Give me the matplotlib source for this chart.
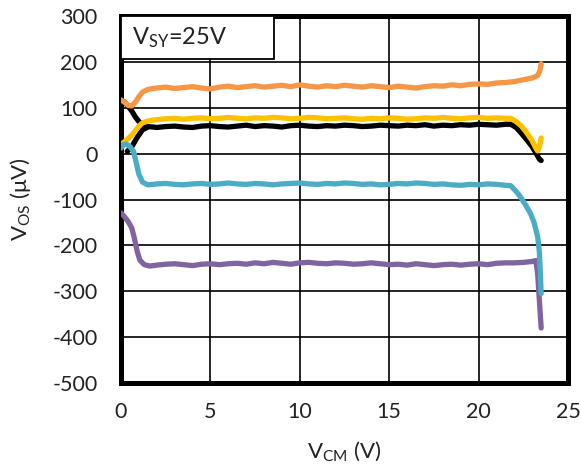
import matplotlib
matplotlib.use("Agg")
import matplotlib.pyplot as plt
from matplotlib.patches import Rectangle

plt.rcParams["font.family"] = ["Lato", "DejaVu Sans"]
plt.rcParams["mathtext.fontset"] = "custom"
plt.rcParams["mathtext.rm"] = "Lato"
plt.rcParams["mathtext.it"] = "Lato:italic"
plt.rcParams["axes.unicode_minus"] = False

# common flat-region VCM points (V)
vcm_mid = [2.0, 2.5, 3.0, 3.5, 4.0, 4.5, 5.0, 5.5, 6.0, 6.5,
           7.0, 7.5, 8.0, 8.5, 9.0, 9.5, 10.0, 10.5, 11.0, 11.5,
           12.0, 12.5, 13.0, 13.5, 14.0, 14.5, 15.0, 15.5, 16.0, 16.5,
           17.0, 17.5, 18.0, 18.5, 19.0, 19.5, 20.0, 20.5, 21.0, 21.5]

# orange
orange_x = [0, 0.2, 0.4, 0.6, 0.8, 1.0, 1.2, 1.5, 1.8] + vcm_mid + [22.0, 22.5, 23.0, 23.3, 23.42, 23.5]
orange_y = [117, 112, 105, 104, 112, 124, 134, 140, 142,
            143, 145, 142, 144, 146, 143, 141, 145, 147, 144,
            146, 148, 145, 147, 149, 146, 150, 147, 145, 148,
            146, 149, 147, 145, 148, 146, 144, 147, 145, 143,
            146, 148, 147, 150, 148, 151, 152, 151, 154, 155,
            157, 161, 165, 170, 180, 196]

# yellow
yellow_x = [0, 0.2, 0.4, 0.6, 0.8, 1.0, 1.2, 1.5, 1.8] + vcm_mid + [21.8, 22.1, 22.4, 22.7, 23.0, 23.2, 23.3, 23.4, 23.5]
yellow_y = [21, 26, 33, 40, 50, 60, 67, 71, 73,
            74, 76, 77, 75, 77, 78, 76, 77, 79, 77,
            76, 78, 77, 79, 78, 76, 77, 79, 78, 76,
            77, 78, 76, 75, 77, 76, 78, 77, 75, 76,
            78, 77, 79, 77, 76, 78, 79, 77, 78, 77,
            77, 70, 60, 45, 28, 12, 6, 14, 34]

# black (two traces)
black_x = [0, 0.2, 0.4, 0.6, 0.8, 1.0, 1.2, 1.5, 1.8] + vcm_mid + [21.8, 22.1, 22.4, 22.7, 23.0, 23.2, 23.4, 23.5]
black_y = [117, 112, 103, 93, 80, 70, 63, 59, 58,
           57, 59, 60, 58, 57, 60, 61, 59, 58, 60,
           62, 59, 61, 60, 58, 61, 62, 60, 59, 61,
           60, 62, 61, 59, 60, 62, 61, 60, 62, 61,
           63, 60, 62, 61, 63, 62, 64, 63, 62, 64,
           64, 57, 44, 30, 15, 2, -12, -15]
black2_x = [0.35, 0.6, 0.9, 1.2, 1.5]
black2_y = [5, 15, 35, 52, 58]

# cyan
cyan_x = [0, 0.15, 0.3, 0.5, 0.7, 0.85, 1.0, 1.2, 1.5, 1.8] + vcm_mid + [21.8, 22.0, 22.3, 22.6, 22.9, 23.1, 23.3, 23.4, 23.45, 23.5]
cyan_y = [12, 20, 21, 15, 5, -20, -45, -62, -68, -67,
          -66, -65, -67, -68, -66, -65, -67, -66, -64, -66,
          -67, -65, -66, -68, -66, -65, -64, -66, -67, -65,
          -66, -64, -65, -67, -66, -68, -67, -65, -66, -64,
          -65, -67, -66, -68, -69, -67, -68, -66, -67, -69,
          -70, -78, -92, -110, -130, -150, -180, -215, -255, -305]

# purple
purple_x = [0, 0.2, 0.4, 0.6, 0.75, 0.9, 1.05, 1.3, 1.6] + vcm_mid + [22.0, 22.5, 23.0, 23.2, 23.3, 23.4, 23.5]
purple_y = [-129, -138, -148, -162, -185, -212, -232, -242, -245,
            -243, -241, -240, -242, -244, -241, -240, -242, -240, -239,
            -241, -238, -240, -237, -239, -241, -238, -237, -239, -240,
            -238, -239, -241, -240, -238, -240, -242, -241, -243, -240,
            -242, -244, -242, -241, -243, -241, -240, -242, -239, -238,
            -238, -237, -235, -233, -260, -320, -380]

x_ticks = [0, 5, 10, 15, 20, 25]
y_ticks = [-500, -400, -300, -200, -100, 0, 100, 200, 300]

fig = plt.figure(figsize=(5.81, 4.66), dpi=100)
ax = fig.add_axes([0.2083, 0.178, 0.7693, 0.7877])

lw = 3.8
ax.plot(purple_x, purple_y, color="#8064A2", lw=lw, solid_capstyle="round", zorder=3)
ax.plot(black_x, black_y, color="black", lw=lw, solid_capstyle="round", zorder=4)
ax.plot(black2_x, black2_y, color="black", lw=lw, solid_capstyle="round", zorder=4)
ax.plot(yellow_x, yellow_y, color="#FFC000", lw=lw, solid_capstyle="round", zorder=5)
ax.plot(cyan_x, cyan_y, color="#4BACC6", lw=lw, solid_capstyle="round", zorder=6)
ax.plot(orange_x, orange_y, color="#F79646", lw=lw, solid_capstyle="round", zorder=7)

ax.set_xlim(0, 25)
ax.set_ylim(-500, 300)
ax.set_xticks(x_ticks)
ax.set_yticks(y_ticks)
ax.grid(True, color="black", lw=1.2)
ax.set_axisbelow(True)
ax.tick_params(length=0, labelsize=15.5, labelcolor="#222222")
ax.tick_params(axis="y", pad=17)
ax.tick_params(axis="x", pad=14)
for s in ax.spines.values():
    s.set_linewidth(3.6)
    s.set_color("black")

# label box
ax.add_patch(Rectangle((0, 206), 8.55, 94, facecolor="white", edgecolor="black", lw=1.3, zorder=8))
ax.text(0.6, 253, r"V$_\mathregular{SY}$=25V", fontsize=17, va="center", ha="left", color="#222222", zorder=9)

ax.set_xlabel(r"V$_\mathregular{CM}$ (V)", fontsize=16, color="#222222", labelpad=12)
ax.set_ylabel(r"V$_\mathregular{OS}$ ($\mathregular{\mu}$V)", fontsize=16, color="#222222", labelpad=14)

fig.savefig("out.png", dpi=100)
